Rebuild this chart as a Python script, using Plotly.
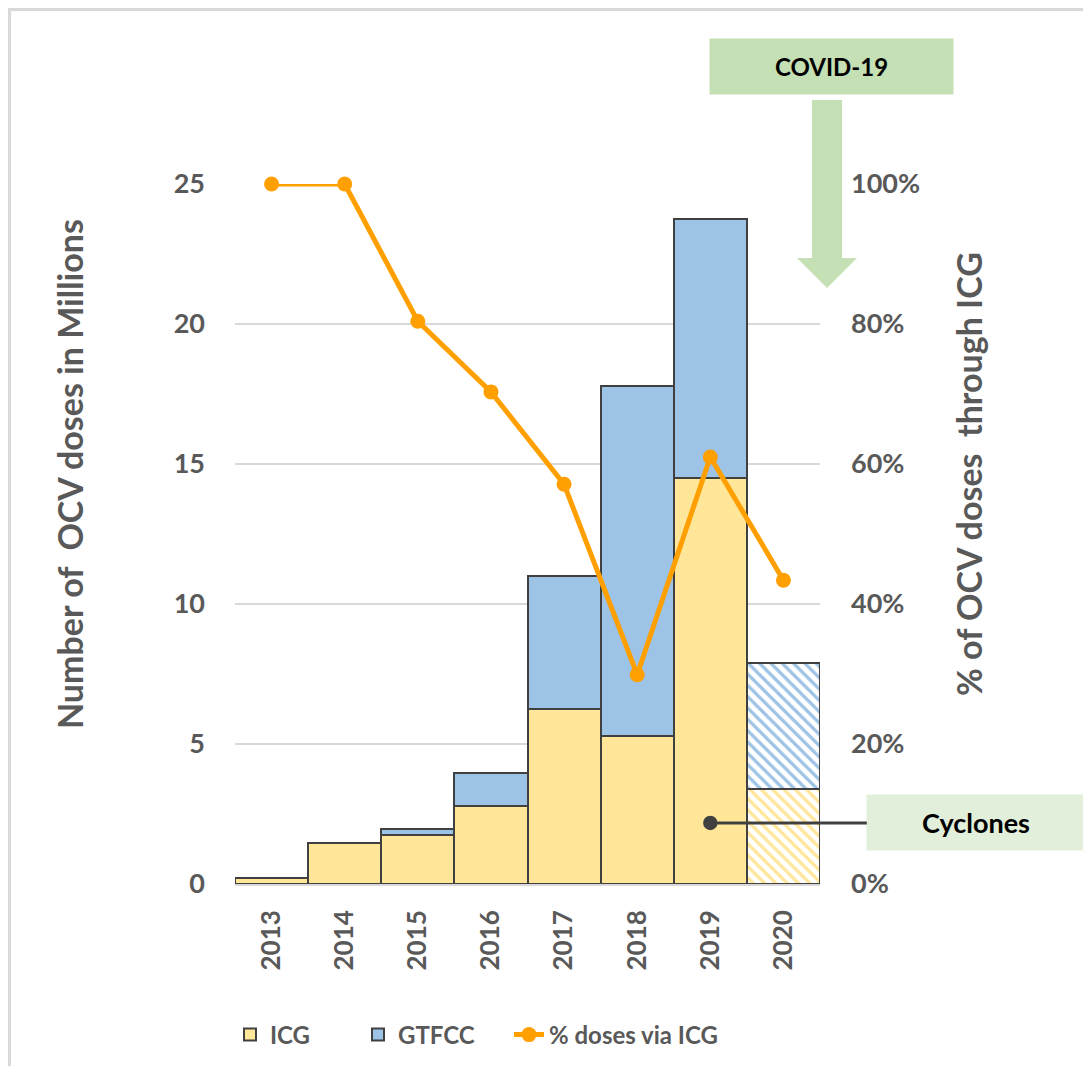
import plotly.graph_objects as go

years = ["2013", "2014", "2015", "2016", "2017", "2018", "2019", "2020"]
icg = [0.2, 1.45, 1.75, 2.8, 6.25, 5.3, 14.5, 3.4]
gtfcc = [0.0, 0.0, 0.2, 1.15, 4.75, 12.5, 9.25, 4.5]
pct_icg = [1.00, 1.00, 0.804, 0.703, 0.571, 0.299, 0.61, 0.434]
hatch = ["", "", "", "", "", "", "", "\\"]

W, H = 1091, 1066
OFF = 8  # page body margin
L, R, T, B = 235 - OFF, 820 - OFF, 184 - OFF, 884 - OFF  # plot area in figure pixels


def px(x):  # page pixel -> paper x
    return (x - OFF - L) / (R - L)


def py(y):  # page pixel -> paper y
    return (B - (y - OFF)) / (B - T)


GRAY = "#595959"
FONT = "Lato"

fig = go.Figure()
fig.add_trace(go.Bar(
    x=years, y=icg, name="ICG", legend="legend", showlegend=True,
    marker=dict(color="#FFE699", line=dict(color="#404040", width=2),
                pattern=dict(shape=hatch, fgcolor="#FFE699", bgcolor="white",
                             fillmode="replace", size=8, solidity=0.4)),
))
fig.add_trace(go.Bar(
    x=years, y=gtfcc, name="GTFCC", legend="legend2", showlegend=True,
    marker=dict(color="#9DC3E6", line=dict(color="#404040", width=2),
                pattern=dict(shape=hatch, fgcolor="#9DC3E6", bgcolor="white",
                             fillmode="replace", size=8, solidity=0.4)),
))
fig.add_trace(go.Scatter(
    x=years, y=pct_icg, name="% doses via ICG", yaxis="y2", legend="legend3",
    showlegend=True,
    mode="lines+markers", line=dict(color="#FFA000", width=5),
    marker=dict(color="#FFA000", size=15), cliponaxis=False,
))

shapes = [
    # outer border (top and left visible)
    dict(type="path", xref="paper", yref="paper",
         path=f"M {px(W+20)},{py(OFF+1.5)} L {px(OFF+1.5)},{py(OFF+1.5)} L {px(OFF+1.5)},{py(H+20)}",
         line=dict(color="#D9D9D9", width=3), layer="below"),
    # COVID arrow
    dict(type="path", xref="paper", yref="paper",
         path=(f"M {px(812)},{py(100)} L {px(842)},{py(100)} L {px(842)},{py(258)} "
               f"L {px(857)},{py(258)} L {px(827)},{py(288)} L {px(797)},{py(258)} "
               f"L {px(812)},{py(258)} Z"),
         fillcolor="#C5E0B4", line=dict(width=0), layer="above"),
]

annotations = [
    dict(text="Number of &nbsp;OCV doses in Millions", xref="paper", yref="paper",
         x=px(69), y=py(474), xanchor="center", yanchor="middle",
         textangle=-90, showarrow=False,
         font=dict(family=FONT, size=34, color=GRAY, weight="bold")),
    dict(text="% of OCV doses &nbsp;through ICG", xref="paper", yref="paper",
         x=px(968), y=py(474), xanchor="center", yanchor="middle",
         textangle=-90, showarrow=False,
         font=dict(family=FONT, size=34, color=GRAY, weight="bold")),
    dict(text="COVID-19", xref="paper", yref="paper",
         x=px(831.5), y=py(66.5), xanchor="center", yanchor="middle", showarrow=False,
         bgcolor="#C5E0B4", width=239, height=51, borderpad=2,
         font=dict(family=FONT, size=24, color="black", weight="bold")),
    dict(text="Cyclones", xref="x", yref="y", x=6, y=2.18,
         ax=266, ay=0, showarrow=True, arrowhead=6, arrowsize=1.2,
         arrowwidth=3, arrowcolor="#404040", standoff=0,
         bgcolor="#E2EFDA", width=214, height=51, borderpad=2,
         font=dict(family=FONT, size=27, color="black", weight="bold")),
]

legend_common = dict(orientation="h", xanchor="left", yanchor="middle",
                     y=py(1035), bgcolor="rgba(0,0,0,0)",
                     font=dict(family=FONT, size=24, color=GRAY, weight="bold"))

fig.update_layout(
    width=W, height=H,
    margin=dict(l=L, r=W - R, t=T, b=H - B, autoexpand=False),
    paper_bgcolor="white", plot_bgcolor="white",
    barmode="stack", bargap=0, showlegend=True,
    font=dict(family=FONT, color=GRAY),
    xaxis=dict(type="category", range=[-0.5, 7.5], showgrid=False, showline=False,
               ticks="", tickangle=-90, ticklabelstandoff=20,
               tickfont=dict(family=FONT, size=26, color=GRAY, weight="bold")),
    yaxis=dict(range=[0, 25], dtick=5, showgrid=True, gridcolor="#D9D9D9", gridwidth=1.5,
               zeroline=True, zerolinecolor="#D9D9D9", zerolinewidth=3,
               ticks="", ticklabelstandoff=29,
               tickfont=dict(family=FONT, size=27, color=GRAY, weight="bold")),
    yaxis2=dict(range=[0, 1], dtick=0.2, tickformat=".0%", overlaying="y", side="right",
                showgrid=False, zeroline=False, ticks="", ticklabelstandoff=30,
                tickfont=dict(family=FONT, size=27, color=GRAY, weight="bold")),
    legend=dict(x=px(230), **legend_common),
    legend2=dict(x=px(358), **legend_common),
    legend3=dict(x=px(509), **legend_common),
    shapes=shapes,
    annotations=annotations,
)

fig.write_html("out.html")
